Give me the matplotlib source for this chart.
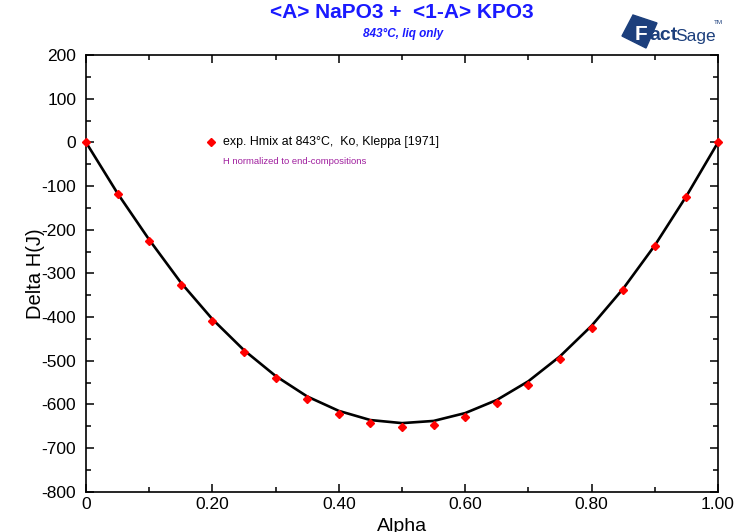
import matplotlib
matplotlib.use("Agg")
import matplotlib.pyplot as plt
from matplotlib.patches import Polygon
from matplotlib.ticker import MultipleLocator, FixedLocator

plt.rcParams['font.family'] = ['Liberation Sans', 'DejaVu Sans']
plt.rcParams['axes.unicode_minus'] = False

# experimental points
alpha_exp = [0.0, 0.05, 0.10, 0.15, 0.20, 0.25, 0.30, 0.35, 0.40, 0.45, 0.50,
             0.55, 0.60, 0.65, 0.70, 0.75, 0.80, 0.85, 0.90, 0.95, 1.0]
dh_exp = [0, -119, -226, -327, -410, -480, -540, -588, -622, -643, -653,
          -648, -630, -598, -555, -497, -426, -339, -238, -126, 0]

# calculated curve
alpha_calc = [0.0, 0.05, 0.10, 0.15, 0.20, 0.25, 0.30, 0.35, 0.40, 0.45, 0.50,
              0.55, 0.60, 0.65, 0.70, 0.75, 0.80, 0.85, 0.90, 0.95, 1.0]
dh_calc = [0, -117, -223, -321, -405, -476, -535, -582, -615, -636, -643,
           -638, -620, -590, -547, -490, -420, -335, -236, -123, 0]

x_ticks = [0, 0.2, 0.4, 0.6, 0.8, 1.0]
x_ticklabels = ['0', '0.20', '0.40', '0.60', '0.80', '1.00']
y_ticks = [-800, -700, -600, -500, -400, -300, -200, -100, 0, 100, 200]

W, H = 742, 532


def px(x, y):
    # pixel position -> figure fraction
    return x / W, 1 - y / H


fig = plt.figure(figsize=(7.42, 5.32), dpi=100)
ax = fig.add_axes([0.1159, 0.0758, 0.8518, 0.8208])

ax.plot(alpha_calc, dh_calc, color='black', lw=1.9, zorder=2)
ax.plot(alpha_exp, dh_exp, 'D', color='red', ms=4.5, mec='red', zorder=3, clip_on=False)

ax.set_xlim(0, 1)
ax.set_ylim(-800, 200)
ax.xaxis.set_major_locator(FixedLocator(x_ticks))
ax.set_xticklabels(x_ticklabels)
ax.xaxis.set_minor_locator(MultipleLocator(0.1))
ax.yaxis.set_major_locator(FixedLocator(y_ticks))
ax.yaxis.set_minor_locator(MultipleLocator(50))
ax.tick_params(which='both', direction='in', top=True, right=True, labelsize=12.5, width=1.1)
ax.tick_params(which='major', length=6)
ax.tick_params(which='minor', length=3.5)
ax.tick_params(axis='y', which='major', pad=7)
ax.tick_params(axis='x', which='major', pad=4)
for s in ax.spines.values():
    s.set_linewidth(1.2)

ax.set_ylabel('Delta H(J)', fontsize=14.5)
ax.yaxis.set_label_coords(-0.065, 0.5)
ax.set_xlabel('Alpha', fontsize=14, labelpad=4)

# legend-like annotation
ax.plot([0.197], [0], 'D', color='red', ms=4.5)
ax.text(0.217, 0, 'exp. Hmix at 843°C,  Ko, Kleppa [1971]', fontsize=8.9,
        va='center', ha='left')
ax.text(0.217, -45, 'H normalized to end-compositions', fontsize=6.8,
        color='#a0209f', va='center', ha='left')

# titles
fig.text(*px(402, 12), '<A> NaPO3 +  <1-A> KPO3', fontsize=15, fontweight='bold',
         color='#1a1aff', ha='center', va='center')
fig.text(*px(403, 34), '843°C, liq only', fontsize=8.5, fontweight='bold', style='italic',
         color='#1a1aff', ha='center', va='center')

# FactSage logo approximation
logo_blue = '#1c3f7c'
sq = Polygon([px(622, 36), px(633, 15), px(657, 23), px(646, 48)],
             closed=True, transform=fig.transFigure, color=logo_blue)
fig.patches.append(sq)
fig.text(*px(641, 34), 'F', fontsize=15, fontweight='bold', color='white',
         ha='center', va='center')
fig.text(*px(649, 36), 'act', fontsize=14, fontweight='bold', color=logo_blue,
         ha='left', va='center')
fig.text(*px(675, 36), 'Sage', fontsize=12.5, color=logo_blue, ha='left', va='center')
fig.text(*px(714, 23), 'TM', fontsize=4.5, color=logo_blue, ha='left', va='center')

fig.savefig('out.png', dpi=100)
